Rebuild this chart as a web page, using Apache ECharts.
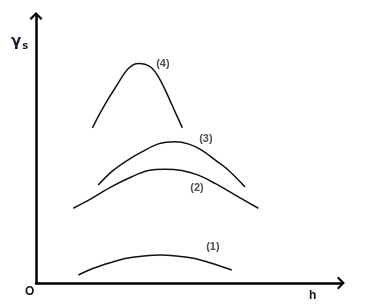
<!DOCTYPE html>
<html><head><meta charset="utf-8">
<script src="https://cdn.jsdelivr.net/npm/echarts@6/dist/echarts.min.js"></script>
<style>html,body{margin:0;padding:0;background:#fff}#c{width:365px;height:307px}</style>
</head><body><div id="c"></div>
<script>
// curve values: [h, gamma_s] in arbitrary units (0..10)
const curve1 = [[1.39,0.30],[1.88,0.55],[2.43,0.76],[2.97,0.93],[3.52,1.01],[4.07,1.05],[4.61,1.01],[5.16,0.93],[5.70,0.76],[6.42,0.49]];
const curve2 = [[1.22,2.80],[1.83,3.17],[2.48,3.61],[3.14,3.98],[3.68,4.21],[4.23,4.26],[4.78,4.21],[5.32,4.04],[5.87,3.73],[6.52,3.30],[7.29,2.80]];
const curve3 = [[2.04,3.67],[2.48,4.17],[2.92,4.54],[3.47,4.91],[4.01,5.21],[4.56,5.29],[4.99,5.21],[5.43,4.98],[5.87,4.61],[6.30,4.23],[6.85,3.60]];
const curve4 = [[1.85,5.81],[2.10,6.36],[2.37,6.90],[2.65,7.40],[2.92,7.89],[3.14,8.14],[3.35,8.22],[3.57,8.19],[3.79,8.06],[4.01,7.73],[4.28,7.12],[4.56,6.41],[4.80,5.81]];
const curveLabels = ['(1)','(2)','(3)','(4)'];
const labelPos = [[5.80,1.35],[5.28,3.56],[5.57,5.39],[4.16,8.20]];
const xName = 'h', yName = 'γ', ySub = 's', originName = 'O';

const chart = echarts.init(document.getElementById('c'));
const arrow = 'path://M0,10 L10,0 L20,10 L17.5,12 L10,4.5 L2.5,12 Z';
const lineSeries = [curve1, curve2, curve3, curve4].map((d, i) => ({
  type: 'line', name: curveLabels[i], data: d, smooth: 0.35, showSymbol: false,
  lineStyle: {color: '#111', width: 1.5}, silent: true
}));
chart.setOption({
  animation: false,
  grid: {left: 36, right: 24, top: 16, bottom: 24},
  xAxis: {type: 'value', min: 0, max: 10,
    axisLine: {show: true, lineStyle: {color: '#000', width: 2.5}, symbol: ['none', arrow], symbolSize: [13, 10]},
    axisTick: {show: false}, axisLabel: {show: false}, splitLine: {show: false}},
  yAxis: {type: 'value', min: 0, max: 10,
    axisLine: {show: true, lineStyle: {color: '#000', width: 2.5}, symbol: ['none', arrow], symbolSize: [13, 10]},
    axisTick: {show: false}, axisLabel: {show: false}, splitLine: {show: false}},
  series: lineSeries.concat([{
    type: 'scatter', symbolSize: 0, silent: true,
    data: labelPos.map((p, i) => ({value: p, name: curveLabels[i]})),
    label: {show: true, position: 'inside', formatter: p => p.name,
      fontFamily: 'Liberation Sans, Arial, sans-serif', fontSize: 11, fontWeight: 'bold', color: '#222'}
  }]),
  graphic: [
    {type: 'text', left: 11, top: 35, style: {
      text: '{g|' + yName + '}{s|' + ySub + '}',
      rich: {g: {fontSize: 15, fontWeight: 'bold', fontFamily: 'DejaVu Sans', fill: '#1a1a2e'},
             s: {fontSize: 10, fontWeight: 'bold', fontFamily: 'DejaVu Sans', fill: '#1a1a2e', padding: [8, 0, 0, 1]}}}},
    {type: 'text', left: 25, top: 286, style: {text: originName, fontSize: 12, fontWeight: 'bold', fontFamily: 'Liberation Sans', fill: '#111'}},
    {type: 'text', left: 309, top: 290, style: {text: xName, fontSize: 12, fontWeight: 'bold', fontFamily: 'Liberation Sans', fill: '#111'}}
  ]
});
</script></body></html>
